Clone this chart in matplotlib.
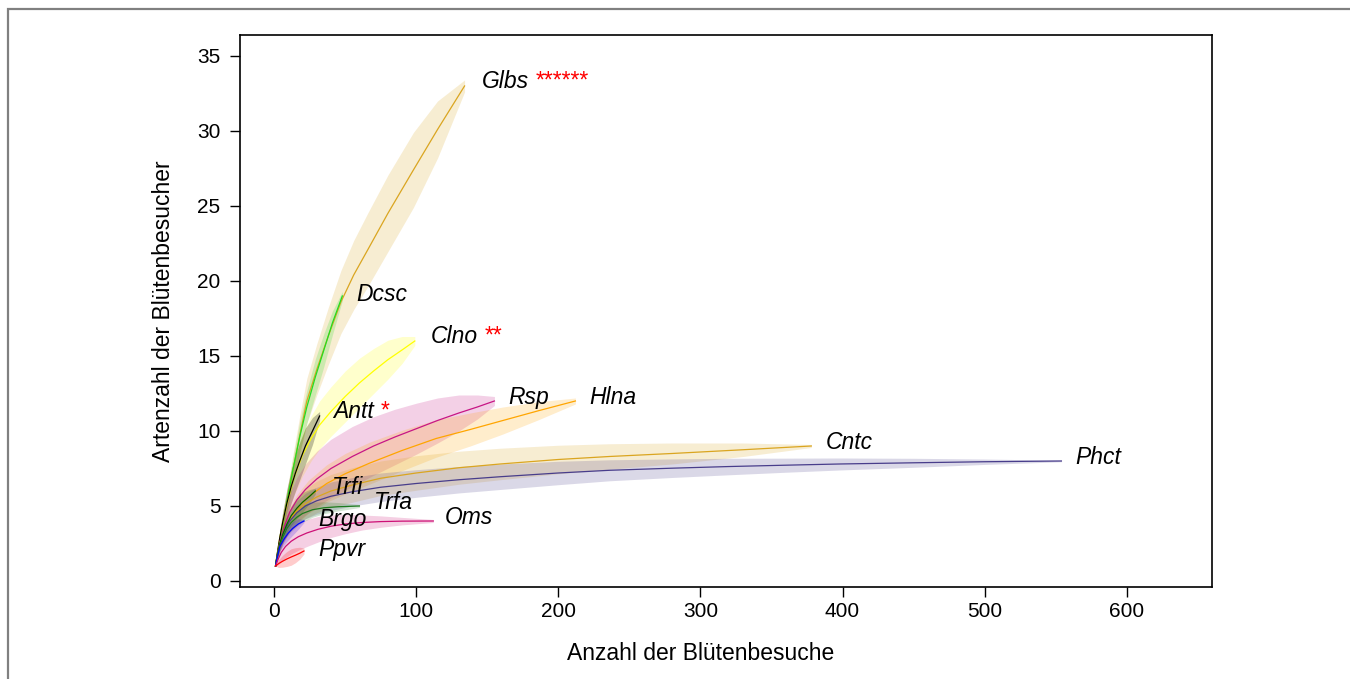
import numpy as np
import matplotlib.pyplot as plt
from matplotlib.patches import Rectangle

plt.rcParams['font.family'] = ['Liberation Sans', 'DejaVu Sans']

# rarefaction curves: n visits, species, half width of the band
glbs_x = [1, 2, 4, 6, 9, 13, 18, 23, 30, 38, 47, 56, 66, 80, 98, 115, 134]
glbs_y = [1, 1.6, 2.7, 3.8, 5.3, 7.3, 9.7, 12, 14.1, 16.3, 18.6, 20.4, 22.1, 24.5, 27.4, 30.1, 33]
glbs_h = [0, 0.15, 0.35, 0.5, 0.75, 1.0, 1.3, 1.5, 1.7, 1.9, 2.1, 2.3, 2.45, 2.55, 2.5, 1.9, 0.4]

dcsc_x = [1, 2, 4, 6, 9, 13, 18, 23, 29, 35, 41, 48]
dcsc_y = [1, 1.6, 2.6, 3.7, 5.3, 7.3, 9.6, 11.6, 13.6, 15.4, 17.2, 19]
dcsc_h = [0, 0.15, 0.3, 0.45, 0.6, 0.8, 1.0, 1.1, 1.2, 1.1, 0.8, 0.3]

clno_x = [1, 2, 4, 7, 10, 14, 20, 26, 32, 40, 50, 60, 70, 80, 90, 99]
clno_y = [1, 1.7, 2.9, 4.3, 5.5, 6.9, 8.4, 9.5, 10.4, 11.3, 12.3, 13.2, 14.0, 14.75, 15.4, 16.0]
clno_h = [0, 0.25, 0.5, 0.8, 1.0, 1.2, 1.4, 1.5, 1.6, 1.65, 1.7, 1.65, 1.5, 1.3, 0.9, 0.3]

antt_x = [1, 2, 4, 6, 9, 12, 15, 18, 22, 27, 32]
antt_y = [1, 1.7, 2.9, 3.9, 5.2, 6.3, 7.2, 8.0, 9.0, 10.0, 11.0]
antt_h = [0, 0.2, 0.5, 0.7, 0.95, 1.1, 1.2, 1.25, 1.2, 0.9, 0.3]

rsp_x = [1, 2, 4, 7, 11, 16, 22, 30, 40, 55, 70, 85, 100, 115, 130, 143, 155]
rsp_y = [1, 1.6, 2.6, 3.6, 4.6, 5.4, 6.1, 6.8, 7.5, 8.3, 9.0, 9.6, 10.15, 10.7, 11.2, 11.6, 12.0]
rsp_h = [0, 0.3, 0.6, 0.9, 1.2, 1.5, 1.7, 1.85, 1.95, 2.0, 1.95, 1.85, 1.7, 1.5, 1.2, 0.8, 0.3]

hlna_x = [1, 2, 4, 7, 11, 16, 24, 37, 50, 67, 90, 114, 138, 161, 186, 212]
hlna_y = [1, 1.5, 2.4, 3.3, 4.1, 4.8, 5.6, 6.5, 7.15, 7.85, 8.7, 9.5, 10.1, 10.7, 11.35, 12.0]
hlna_h = [0, 0.2, 0.4, 0.6, 0.8, 0.95, 1.1, 1.25, 1.35, 1.4, 1.35, 1.25, 1.1, 0.9, 0.6, 0.2]

cntc_x = [1, 2, 4, 7, 11, 16, 22, 30, 40, 55, 75, 100, 130, 159, 200, 236, 280, 330, 378]
cntc_y = [1, 1.6, 2.55, 3.35, 4.05, 4.65, 5.15, 5.6, 6.0, 6.4, 6.85, 7.2, 7.55, 7.8, 8.1, 8.3, 8.5, 8.75, 9.0]
cntc_h = [0, 0.2, 0.4, 0.6, 0.75, 0.9, 1.0, 1.05, 1.1, 1.15, 1.15, 1.15, 1.1, 1.05, 0.95, 0.85, 0.7, 0.45, 0.1]

phct_x = [1, 2, 4, 7, 11, 16, 22, 30, 40, 55, 75, 100, 130, 159, 200, 236, 280, 320, 360, 398, 450, 500, 554]
phct_y = [1, 1.6, 2.5, 3.3, 4.0, 4.55, 5.0, 5.35, 5.65, 5.95, 6.25, 6.5, 6.75, 6.95, 7.2, 7.38, 7.52, 7.63,
          7.72, 7.8, 7.88, 7.95, 8.0]
phct_h = [0, 0.2, 0.4, 0.55, 0.7, 0.8, 0.85, 0.9, 0.95, 0.95, 0.95, 0.92, 0.88, 0.85, 0.78, 0.7, 0.62, 0.55,
          0.47, 0.4, 0.3, 0.18, 0.05]

trfi_x = [1, 2, 4, 6, 9, 12, 16, 20, 25, 29]
trfi_y = [1, 1.6, 2.5, 3.1, 3.8, 4.35, 4.85, 5.25, 5.65, 6.0]
trfi_h = [0, 0.15, 0.35, 0.45, 0.55, 0.65, 0.7, 0.65, 0.45, 0.2]

trfa_x = [1, 2, 4, 6, 9, 12, 16, 20, 27, 35, 45, 60]
trfa_y = [1, 1.5, 2.3, 2.9, 3.5, 3.9, 4.25, 4.5, 4.75, 4.88, 4.95, 5.0]
trfa_h = [0, 0.15, 0.35, 0.45, 0.55, 0.6, 0.6, 0.58, 0.5, 0.4, 0.28, 0.1]

brgo_x = [1, 2, 4, 7, 10, 13, 17, 21]
brgo_y = [1, 1.5, 2.3, 2.8, 3.2, 3.5, 3.8, 4.0]
brgo_h = [0, 0.15, 0.3, 0.4, 0.45, 0.45, 0.35, 0.1]

oms_x = [1, 3, 5, 8, 12, 17, 23, 31, 40, 50, 62, 75, 90, 112]
oms_y = [1, 1.5, 1.9, 2.3, 2.65, 2.95, 3.2, 3.45, 3.65, 3.8, 3.9, 3.96, 3.99, 4.0]
oms_h = [0, 0.4, 0.6, 0.75, 0.85, 0.9, 0.9, 0.85, 0.75, 0.65, 0.5, 0.38, 0.25, 0.1]

ppvr_x = [1, 3, 6, 9, 12, 15, 18, 21]
ppvr_y = [1, 1.15, 1.32, 1.47, 1.6, 1.72, 1.85, 2.0]
ppvr_h = [0, 0.25, 0.4, 0.5, 0.55, 0.5, 0.4, 0.2]

# label, curve, colour, label position, significance stars
kurven = [
    ("Glbs", glbs_x, glbs_y, glbs_h, "#DAA520", (146, 33.3), "******"),
    ("Dcsc", dcsc_x, dcsc_y, dcsc_h, "#22DD22", (58, 19.1), ""),
    ("Clno", clno_x, clno_y, clno_h, "#FFFF00", (110, 16.3), "**"),
    ("Antt", antt_x, antt_y, antt_h, "#000000", (41.5, 11.3), "*"),
    ("Rsp", rsp_x, rsp_y, rsp_h, "#C71585", (165, 12.2), ""),
    ("Hlna", hlna_x, hlna_y, hlna_h, "#FFA500", (222, 12.2), ""),
    ("Cntc", cntc_x, cntc_y, cntc_h, "#DAA520", (388, 9.2), ""),
    ("Phct", phct_x, phct_y, phct_h, "#483D8B", (564, 8.2), ""),
    ("Trfi", trfi_x, trfi_y, trfi_h, "#006400", (41, 6.2), ""),
    ("Trfa", trfa_x, trfa_y, trfa_h, "#1E7B1E", (70, 5.2), ""),
    ("Brgo", brgo_x, brgo_y, brgo_h, "#0000FF", (31, 4.07), ""),
    ("Oms", oms_x, oms_y, oms_h, "#CD1076", (120, 4.2), ""),
    ("Ppvr", ppvr_x, ppvr_y, ppvr_h, "#FF0000", (31, 2.13), ""),
]

fig = plt.figure(figsize=(13.5, 6.79), dpi=100)
ax = fig.add_axes([0.1778, 0.1355, 0.72, 0.813])

# grauer Rahmen um die Abbildung
fig.patches.append(Rectangle((0.006, -0.1), 1.2, 1.0867, transform=fig.transFigure,
                             fill=False, edgecolor="#808080", linewidth=1.6))

for name, x, y, h, farbe, pos, sterne in kurven:
    y = np.array(y)
    h = np.array(h)
    alpha = 0.25 if farbe == "#000000" else 0.2
    ax.fill_between(x, y - h, y + h, color=farbe, alpha=alpha, linewidth=0)

for name, x, y, h, farbe, pos, sterne in kurven:
    ax.plot(x, y, color=farbe, linewidth=0.9)

for name, x, y, h, farbe, pos, sterne in kurven:
    t = ax.text(pos[0], pos[1], name, fontsize=16.5, style="italic", va="center", ha="left")
    if sterne:
        ax.annotate(sterne, xy=(1, 0.5), xycoords=t, xytext=(5, 0), textcoords="offset points",
                    fontsize=16.5, color="red", va="center", ha="left")

ax.set_xlim(-24, 660)
ax.set_ylim(-0.4, 36.4)
ax.set_xticks(np.arange(0, 601, 100))
ax.set_yticks(np.arange(0, 36, 5))
ax.tick_params(direction="out", length=7, width=1, labelsize=15)
ax.tick_params(axis="y", pad=7)
for s in ax.spines.values():
    s.set_linewidth(1.2)

ax.set_xlabel("Anzahl der Blütenbesuche", fontsize=16.5, labelpad=14)
ax.xaxis.set_label_coords(0.474, -0.1)
ax.set_ylabel("Artenzahl der Blütenbesucher", fontsize=16.5, labelpad=16)

fig.savefig("out.png", dpi=100)
